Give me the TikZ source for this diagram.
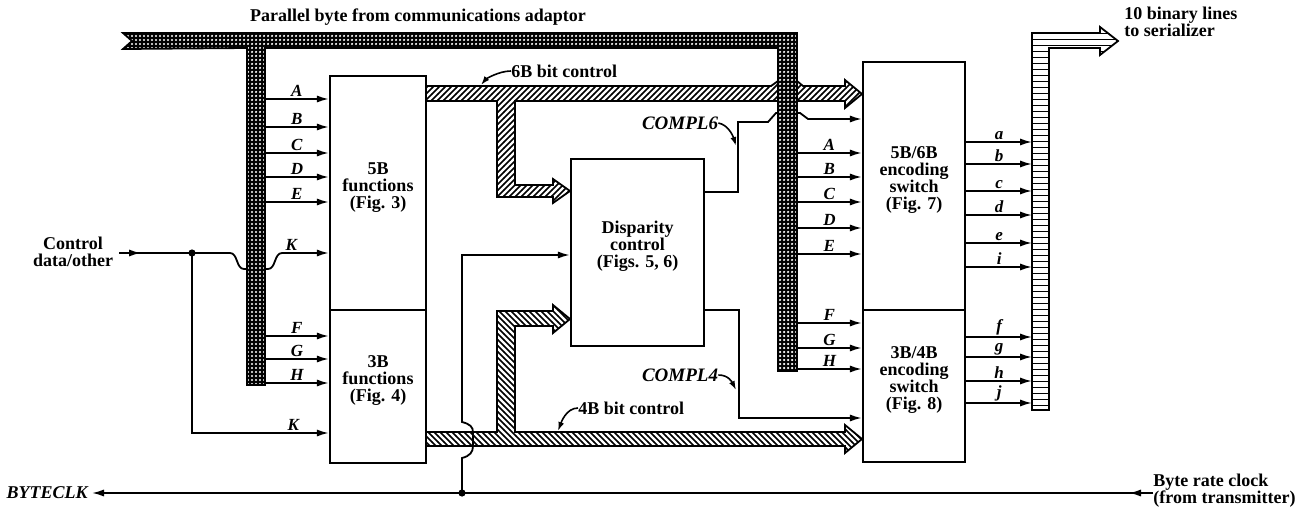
\documentclass[tikz,border=0pt]{standalone}
\usepackage{fontspec}
\setmainfont{Liberation Serif}
\usetikzlibrary{arrows.meta,patterns,fit,positioning}

\pgfdeclarepatternformonly{chkdots}{\pgfqpoint{-1pt}{-1pt}}{\pgfqpoint{1pt}{1pt}}{\pgfqpoint{2pt}{2pt}}{%
  \pgfpathcircle{\pgfpointorigin}{0.62pt}\pgfusepath{fill}}
\pgfdeclarepatternformonly{hatchne}{\pgfqpoint{-1pt}{-1pt}}{\pgfqpoint{4pt}{4pt}}{\pgfqpoint{3pt}{3pt}}{%
  \pgfsetlinewidth{0.75pt}\pgfpathmoveto{\pgfqpoint{-0.1pt}{-0.1pt}}%
  \pgfpathlineto{\pgfqpoint{3.1pt}{3.1pt}}\pgfusepath{stroke}}
\pgfdeclarepatternformonly{hatchnw}{\pgfqpoint{-1pt}{-1pt}}{\pgfqpoint{4pt}{4pt}}{\pgfqpoint{3pt}{3pt}}{%
  \pgfsetlinewidth{0.75pt}\pgfpathmoveto{\pgfqpoint{-0.1pt}{3.1pt}}%
  \pgfpathlineto{\pgfqpoint{3.1pt}{-0.1pt}}\pgfusepath{stroke}}

\tikzset{
  blk/.style={draw, line width=1.2pt, inner sep=0pt, align=center, font=\bfseries\fontsize{9}{8.5}\selectfont},
  sig/.style={line width=0.9pt},
  sigarr/.style={line width=0.9pt, -{Latex[length=6pt,width=3.6pt]}},
  ptr/.style={line width=0.8pt, -{Latex[length=4.5pt,width=3pt]}},
  lbl/.style={above, inner sep=0.6pt, font=\bfseries\itshape\fontsize{8.5}{8.5}\selectfont},
  txt/.style={inner sep=0pt, font=\bfseries\fontsize{9}{8.5}\selectfont},
  itxt/.style={inner sep=0pt, font=\bfseries\itshape\fontsize{9.5}{9.5}\selectfont},
  bus/.style={draw, line width=0.9pt},
}

\begin{document}
\begin{tikzpicture}[x=0.5pt,y=-0.5pt]
\useasboundingbox (0,0) rectangle (1299,508);

\node[blk, fit={(330,76) (426,310)}] (fiveB) {5B\\functions\\(Fig. 3)};
\node[blk, fit={(330,310) (426,463)}] (threeB) {3B\\functions\\(Fig. 4)};
\node[blk, fit={(571,159) (704,346)}] (disp) {Disparity\\control\\(Figs. 5, 6)};
\node[blk, fit={(863,62) (965,310)}] (fivesix) {5B/6B\\encoding\\switch\\(Fig. 7)};
\node[blk, fit={(863,310) (965,462)}] (threefour) {3B/4B\\encoding\\switch\\(Fig. 8)};

\node[txt] (pbyte) at (418,17) {Parallel byte from communications adaptor};
\node[txt, anchor=west, align=left] (serial) at (1124,22) {10 binary lines\\to serializer};
\node[txt, align=center] (ctl) at (73,252) {Control\\data/other};
\node[itxt, anchor=east, font=\bfseries\itshape\fontsize{9}{9}\selectfont] (bclk) at (88,493) {BYTECLK};
\node[txt, anchor=west, align=left] (clkin) at (1153,491) {Byte rate clock\\(from transmitter)};
\node[txt, anchor=west] (lbl6) at (511,71) {6B bit control};
\node[txt, anchor=west] (lbl4) at (578,408) {4B bit control};
\node[itxt] (c6) at (680,123) {COMPL6};
\node[itxt] (c4) at (680,375) {COMPL4};

\coordinate (pbL) at (265,48);
\coordinate (pbR) at (797,48);
\coordinate (obus) at (1032,48);
\coordinate (jctl) at (192,253);
\coordinate (jclk) at (462,493);

\foreach \l/\y in {A/99,B/127,C/153,D/177,E/202}
  \draw[sigarr] (pbL |- 0,\y) -- node[lbl]{\l} (fiveB.west |- 0,\y);
\foreach \l/\y in {F/336,G/359,H/383}
  \draw[sigarr] (pbL |- 0,\y) -- node[lbl]{\l} (threeB.west |- 0,\y);
\foreach \l/\y in {A/153,B/177,C/202,D/228,E/254}
  \draw[sigarr] (pbR |- 0,\y) -- node[lbl]{\l} (fivesix.west |- 0,\y);
\foreach \l/\y in {F/323,G/348,H/369}
  \draw[sigarr] (pbR |- 0,\y) -- node[lbl]{\l} (threefour.west |- 0,\y);
\foreach \l/\y in {a/142,b/164,c/191,d/215,e/243,i/267}
  \draw[sigarr] (fivesix.east |- 0,\y) -- node[lbl]{\l} (obus |- 0,\y);
\foreach \l/\y in {f/337,g/357,h/381,j/403}
  \draw[sigarr] (threefour.east |- 0,\y) -- node[lbl]{\l} (obus |- 0,\y);

\draw[sigarr] ([xshift=3pt]ctl.east |- jctl) -- (141,253);
\draw[sigarr] ([xshift=3pt]ctl.east |- jctl) -- (jctl) -- (230,253)
  .. controls (238,253) and (236,269) .. (244,269) -- (268,269)
  .. controls (276,269) and (274,253) .. (282,253)
  -- node[lbl,pos=0.2]{K} (fiveB.west |- 0,253);
\draw[sigarr] (jctl) |- node[lbl,pos=0.87]{K} (threeB.west |- 0,433);
\fill (jctl) circle (1.8pt);

\draw[sigarr, shorten >=2pt] (clkin.west |- jclk) -- (bclk.east);
\draw[sigarr] (clkin.west |- jclk) -- ++(-24,0);
\draw[sigarr] (jclk) -- (462,458) .. controls (470,456) and (473,452) .. (473,446)
  -- (473,432) .. controls (473,427) and (470,424) .. (462,422)
  -- (462,255) -- (disp.west |- 0,255);
\fill (jclk) circle (1.8pt);

\draw[sigarr] (disp.east |- 0,192) -| (738,122) -- (768,122) -- (776,113)
  -- (800,113) -- (808,119) -- (fivesix.west |- 0,119);
\draw[sigarr] (disp.east |- 0,310) -| (739,418) -- (threefour.west |- 0,418);

\draw[ptr] (c6.east) .. controls +(10,2) and +(-3,-10) .. (736,146);
\draw[ptr] (c4.east) .. controls +(10,0) and +(-4,-8) .. (736,390);
\draw[ptr] (lbl6.west) .. controls +(-12,0) and +(5,-6) .. (481,85);
\draw[ptr] (lbl4.west) .. controls +(-12,0) and +(3,-8) .. (558,431);

\draw[bus, pattern=hatchne] (426,86) -- (771,86) -- (778,81) -- (797,81) -- (803,86)
  -- (845,86) -- (845,80) -- (862,94) -- (845,108) -- (845,101) -- (515,101) -- (515,185)
  -- (553,185) -- (553,179) -- (570,191) -- (553,203) -- (553,197) -- (497,197)
  -- (497,101) -- (426,101) -- cycle;
\draw[bus, pattern=hatchnw] (426,432) -- (497,432) -- (497,311) -- (553,311)
  -- (553,305) -- (570,319) -- (553,333) -- (553,326) -- (515,326) -- (515,432)
  -- (845,432) -- (845,425) -- (862,439) -- (845,453) -- (845,446) -- (426,446) -- cycle;
\draw[bus, preaction={fill=black}, pattern=chkdots, pattern color=white]
  (123,33) -- (797,33) -- (797,371) -- (778,371) -- (778,48) -- (265,48) -- (265,385)
  -- (247,385) -- (247,48) -- (123,49) -- (132,41) -- cycle;
\draw[bus, pattern=horizontal lines] (1032,410) -- (1032,33) -- (1100,33) -- (1100,27)
  -- (1118,41) -- (1100,55) -- (1100,48) -- (1049,48) -- (1049,410) -- cycle;
\end{tikzpicture}
\end{document}
